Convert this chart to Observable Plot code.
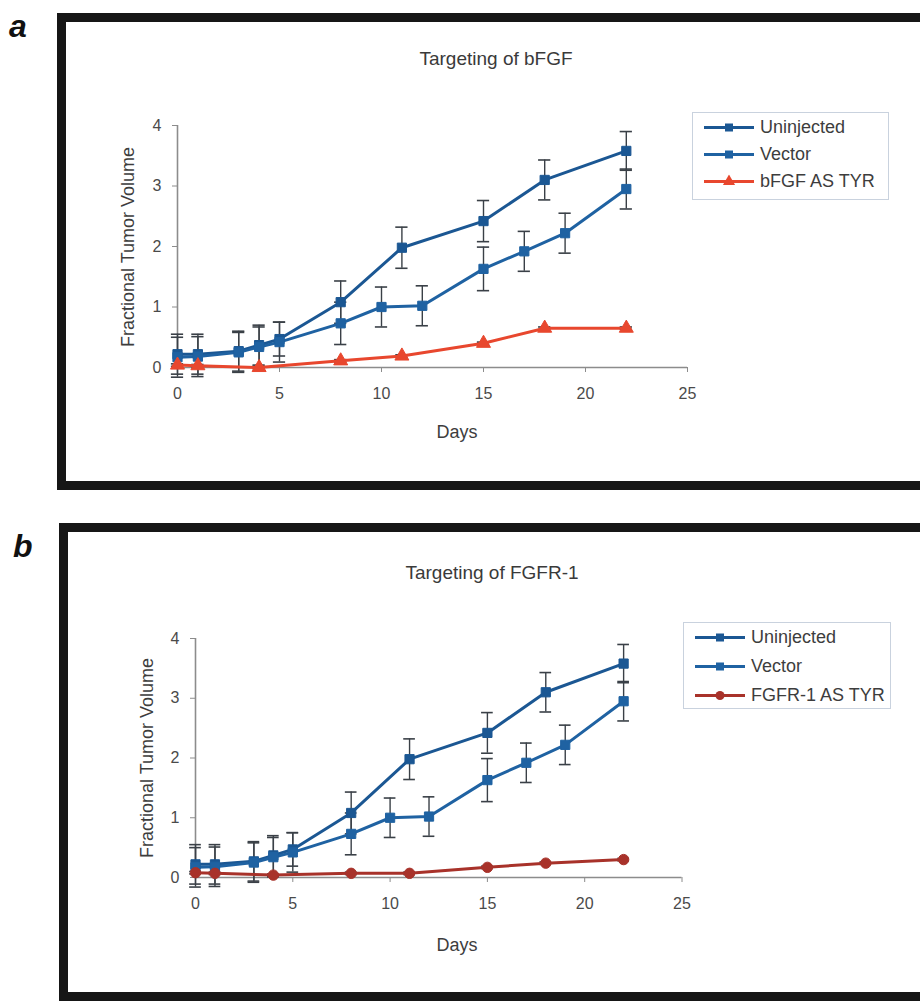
<!DOCTYPE html>
<html><head><meta charset="utf-8">
<script src="https://cdn.jsdelivr.net/npm/d3@7"></script>
<script src="https://cdn.jsdelivr.net/npm/@observablehq/plot@0.6"></script>
<style>
body{margin:0;background:#fff;width:920px;height:1001px;overflow:hidden;position:relative;font-family:"Liberation Sans",Arial,sans-serif;color:#333}
.frame{position:absolute;border:9px solid #161616;box-sizing:border-box}
.abs{position:absolute;white-space:nowrap;transform:translate(-50%,-50%);line-height:1}
.plot{position:absolute}
.legend{position:absolute;border:1.5px solid #c9d2de;box-sizing:border-box;background:#fff}
.legend .row{position:absolute;left:10px;display:flex;align-items:center;transform:translateY(-50%);font-size:18px;color:#3d3d3d}
.panel-letter{position:absolute;font-weight:bold;font-style:italic;font-size:32px;color:#111;line-height:1}
</style></head><body>
<script>
// ---------- data ----------
const xTicks = [0, 5, 10, 15, 20, 25];
const yTicks = [0, 1, 2, 3, 4];

const seriesNames = ["Uninjected", "Vector"];
const blueColors = ["#1b5793", "#1f62a2"];

const unjDays = [0, 1, 3, 4, 5, 8, 11, 15, 18, 22];
const unjVals = [0.22, 0.22, 0.27, 0.37, 0.47, 1.08, 1.98, 2.42, 3.10, 3.58];
const unjErr  = [0.33, 0.33, 0.33, 0.33, 0.28, 0.35, 0.34, 0.34, 0.33, 0.32];

const vecDays = [0, 1, 3, 4, 5, 8, 10, 12, 15, 17, 19, 22];
const vecVals = [0.17, 0.18, 0.25, 0.34, 0.42, 0.73, 1.00, 1.02, 1.63, 1.92, 2.22, 2.95];
const vecErr  = [0.33, 0.33, 0.33, 0.33, 0.33, 0.35, 0.33, 0.33, 0.36, 0.33, 0.33, 0.33];

const bfgfName = "bFGF AS TYR";
const bfgfDays = [0, 1, 4, 8, 11, 15, 18, 22];
const bfgfVals = [0.04, 0.03, 0.00, 0.11, 0.19, 0.40, 0.65, 0.65];
const bfgfErr  = [0.02, 0.02, 0.02, 0.02, 0.02, 0.02, 0.02, 0.02];

const fgfrName = "FGFR-1 AS TYR";
const fgfrDays = [0, 1, 4, 8, 11, 15, 18, 22];
const fgfrVals = [0.08, 0.07, 0.04, 0.07, 0.07, 0.17, 0.24, 0.30];
const fgfrErr  = [0.02, 0.02, 0.02, 0.02, 0.02, 0.02, 0.02, 0.02];

const titles = ["Targeting of bFGF", "Targeting of FGFR-1"];
const xLabel = "Days";
const yLabel = "Fractional Tumor Volume";

// ---------- helpers ----------
function rowsOf(name, days, vals, errs) {
  return days.map((d, i) => ({series: name, day: d, v: vals[i], err: errs[i]}));
}
function el(tag, cls, style, text) {
  const e = document.createElement(tag);
  if (cls) e.className = cls;
  Object.assign(e.style, style || {});
  if (text != null) e.textContent = text;
  document.body.appendChild(e);
  return e;
}

function makePanel(cfg) {
  const names = [...seriesNames, cfg.treatName];
  const colors = [...blueColors, cfg.treatColor];
  const symbols = ["square", "square", cfg.treatSymbol];
  const rows = [
    ...rowsOf(names[0], unjDays, unjVals, unjErr),
    ...rowsOf(names[1], vecDays, vecVals, vecErr),
    ...rowsOf(names[2], cfg.treatDays, cfg.treatVals, cfg.treatErr)
  ];
  const errStroke = "#3a4047";
  const chart = Plot.plot({
    width: cfg.width, height: cfg.height,
    marginLeft: cfg.ml, marginRight: cfg.mr, marginTop: cfg.mt, marginBottom: cfg.mb,
    style: {fontFamily: "'Liberation Sans', Arial, sans-serif", fontSize: "16px", background: "transparent", overflow: "visible"},
    x: {domain: [0, 25], label: null},
    y: {domain: [0, 4], label: null},
    color: {domain: names, range: colors},
    symbol: {domain: names, range: symbols},
    marks: [
      Plot.axisX({ticks: xTicks, tickFormat: d => String(d), tickSize: 5, tickPadding: 15, stroke: "#8c8c8c", fill: "#4a4a4a", fontSize: 16, label: null}),
      Plot.axisY({ticks: yTicks, tickFormat: d => String(d), tickSize: 5, tickPadding: 11, stroke: "#8c8c8c", fill: "#4a4a4a", fontSize: 16, label: null}),
      Plot.ruleY([0], {stroke: "#8c8c8c", strokeWidth: 1.6}),
      Plot.ruleX([0], {stroke: "#8c8c8c", strokeWidth: 1.6}),
      Plot.ruleX(rows, {x: "day", y1: d => d.v - d.err, y2: d => d.v + d.err, stroke: errStroke, strokeWidth: 1.4}),
      Plot.ruleY(rows, {y: d => d.v + d.err, x1: d => d.day - 0.3, x2: d => d.day + 0.3, stroke: errStroke, strokeWidth: 1.6}),
      Plot.ruleY(rows, {y: d => d.v - d.err, x1: d => d.day - 0.3, x2: d => d.day + 0.3, stroke: errStroke, strokeWidth: 1.6}),
      Plot.line(rows, {x: "day", y: "v", z: "series", stroke: "series", strokeWidth: 3}),
      Plot.dot(rows, {x: "day", y: "v", symbol: "series", fill: "series", stroke: "series", r: 5.2, strokeWidth: 1})
    ]
  });
  chart.classList.add("plot");
  Object.assign(chart.style, {left: cfg.left + "px", top: cfg.top + "px"});
  document.body.appendChild(chart);

  // title + axis labels
  el("div", "abs", {left: cfg.titleX + "px", top: cfg.titleY + "px", fontSize: "19px", color: "#3a3a3a"}, cfg.title);
  el("div", "abs", {left: cfg.xlabX + "px", top: cfg.xlabY + "px", fontSize: "18px", color: "#3d3d3d"}, xLabel);
  el("div", "abs", {left: cfg.ylabX + "px", top: cfg.ylabY + "px", fontSize: "18px", color: "#3d3d3d",
    transform: "translate(-50%,-50%) rotate(-90deg)"}, yLabel);

  // legend
  const lg = el("div", "legend", {left: cfg.lgLeft + "px", top: cfg.lgTop + "px", width: cfg.lgW + "px", height: cfg.lgH + "px"});
  names.forEach((n, i) => {
    const row = document.createElement("div");
    row.className = "row";
    row.style.top = (cfg.lgRow0 + i * cfg.lgStep) + "px";
    const sw = d3.create("svg").attr("width", 52).attr("height", 14).style("margin-right", "5px");
    sw.append("line").attr("x1", 1).attr("x2", 51).attr("y1", 7).attr("y2", 7).attr("stroke", colors[i]).attr("stroke-width", 3);
    sw.append("path").attr("transform", "translate(26,7)")
      .attr("d", d3.symbol(symbols[i] === "square" ? d3.symbolSquare : symbols[i] === "triangle" ? d3.symbolTriangle : d3.symbolCircle, 64)())
      .attr("fill", colors[i]);
    row.appendChild(sw.node());
    const t = document.createElement("span");
    t.textContent = n;
    row.appendChild(t);
    lg.appendChild(row);
  });
}

// frames & letters
el("div", "frame", {left: "57px", top: "13px", width: "900px", height: "477px"});
el("div", "frame", {left: "59px", top: "523px", width: "900px", height: "478px"});
el("div", "panel-letter", {left: "9px", top: "10px"}, "a");
el("div", "panel-letter", {left: "13px", top: "530px"}, "b");

makePanel({
  left: 100, top: 100, width: 607, height: 307, ml: 77, mr: 20, mt: 25, mb: 40,
  treatName: bfgfName, treatColor: "#e8472e", treatSymbol: "triangle",
  treatDays: bfgfDays, treatVals: bfgfVals, treatErr: bfgfErr,
  title: titles[0], titleX: 496, titleY: 58, xlabX: 457, xlabY: 432, ylabX: 128, ylabY: 247,
  lgLeft: 692, lgTop: 112, lgW: 197, lgH: 88, lgRow0: 14, lgStep: 27
});
makePanel({
  left: 100, top: 610, width: 602, height: 307, ml: 95, mr: 20.5, mt: 28, mb: 40,
  treatName: fgfrName, treatColor: "#a8322a", treatSymbol: "circle",
  treatDays: fgfrDays, treatVals: fgfrVals, treatErr: fgfrErr,
  title: titles[1], titleX: 492, titleY: 572, xlabX: 457, xlabY: 945, ylabX: 147, ylabY: 758,
  lgLeft: 683, lgTop: 622, lgW: 208, lgH: 87, lgRow0: 14, lgStep: 29
});
</script>
</body></html>
